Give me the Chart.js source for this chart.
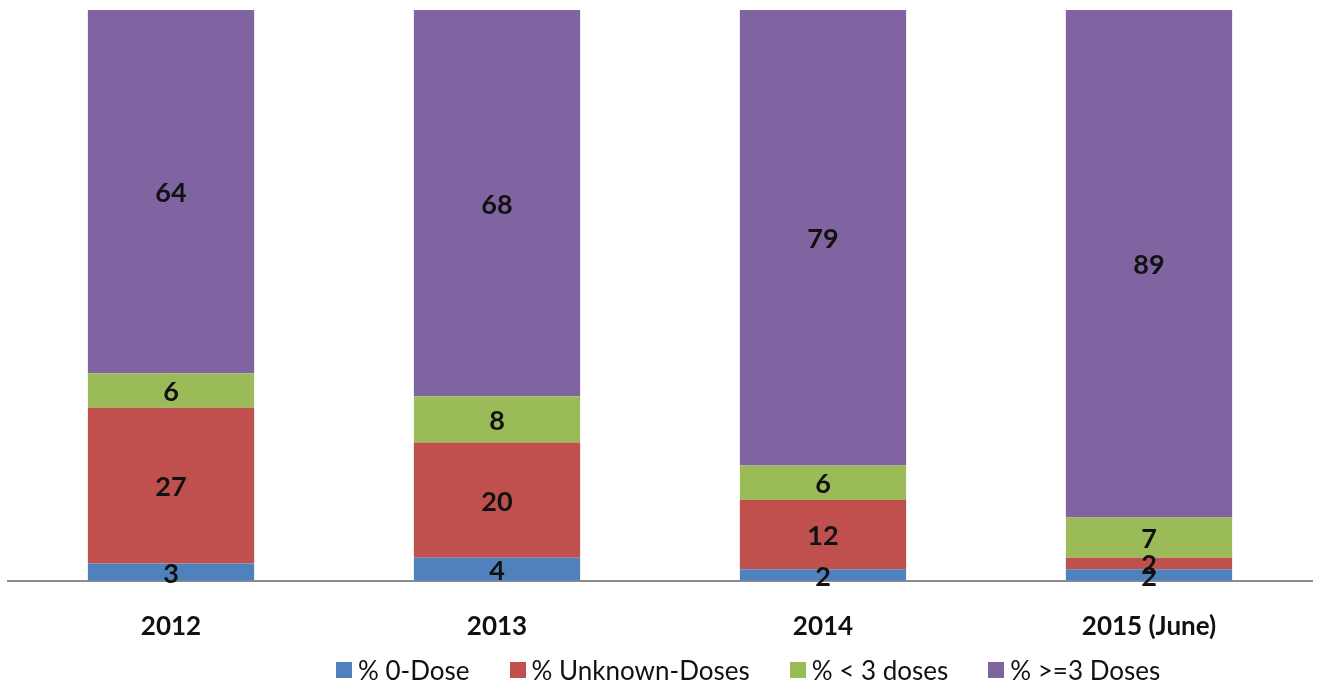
<!DOCTYPE html>
<html>
<head>
<meta charset="utf-8">
<script src="https://cdn.jsdelivr.net/npm/chart.js@4"></script>
<style>
  html, body { margin: 0; padding: 0; background: #fff; }
  #wrap { position: relative; width: 1319px; height: 689px; }
  #legend {
    position: absolute; left: 336px; top: 654px;
    display: flex; align-items: center; gap: 40px;
    font-family: Lato, "Open Sans", sans-serif; font-size: 26px; color: #111;
    white-space: nowrap;
  }
  #legend .item { display: flex; align-items: center; gap: 6px; }
  #legend .box { width: 16px; height: 16px; }
</style>
</head>
<body>
<div id="wrap">
  <canvas id="myChart" width="1319" height="689"></canvas>
  <div id="legend"></div>
</div>
<script>
// Chart values
const years = ['2012', '2013', '2014', '2015 (June)'];
const zeroDose = [3, 4, 2, 2];
const unknownDoses = [27, 20, 12, 2];
const lessThan3 = [6, 8, 6, 7];
const threeOrMore = [64, 68, 79, 89];

const seriesNames = ['% 0-Dose', '% Unknown-Doses', '% < 3 doses', '% >=3 Doses'];
const seriesColors = ['#4F81BD', '#C0504D', '#9BBB59', '#8064A2'];

// Draw the value in the middle of each segment
const segmentLabels = {
  id: 'segmentLabels',
  afterDatasetsDraw(chart) {
    const ctx = chart.ctx;
    ctx.save();
    ctx.font = 'bold 27px Lato, "Open Sans", sans-serif';
    ctx.fillStyle = '#111';
    ctx.textAlign = 'center';
    ctx.textBaseline = 'middle';
    chart.data.datasets.forEach((ds, i) => {
      const meta = chart.getDatasetMeta(i);
      meta.data.forEach((bar, j) => {
        const top = Math.max(bar.y, chart.chartArea.top);
        const mid = (top + bar.base) / 2;
        ctx.fillText(String(ds.data[j]), bar.x, mid + 2);
      });
    });
    ctx.restore();
  }
};

const datasets = [zeroDose, unknownDoses, lessThan3, threeOrMore].map((values, i) => ({
  label: seriesNames[i],
  data: values,
  backgroundColor: seriesColors[i],
  borderWidth: 0,
  barPercentage: 0.51,
  categoryPercentage: 1
}));

const chart = new Chart(document.getElementById('myChart').getContext('2d'), {
  type: 'bar',
  data: { labels: years, datasets: datasets },
  options: {
    responsive: false,
    animation: false,
    layout: { padding: { top: 10, left: 8, right: 7, bottom: 17 } },
    scales: {
      x: {
        stacked: true,
        grid: { display: false, drawTicks: false },
        border: { color: '#8c8c8c', width: 2 },
        ticks: {
          color: '#111',
          padding: 30,
          font: { family: 'Lato, "Open Sans", sans-serif', size: 26, weight: 'bold' }
        }
      },
      y: {
        stacked: true,
        display: false,
        min: 0,
        max: 99
      }
    },
    plugins: {
      legend: { display: false },
      tooltip: { enabled: false }
    }
  },
  plugins: [segmentLabels]
});

// Build the legend below the chart from the datasets
const legendEl = document.getElementById('legend');
chart.data.datasets.forEach(ds => {
  const item = document.createElement('div');
  item.className = 'item';
  item.innerHTML = `<span class="box" style="background:${ds.backgroundColor}"></span><span>${ds.label.replace(/</g, '&lt;').replace(/>/g, '&gt;')}</span>`;
  legendEl.appendChild(item);
});
</script>
</body>
</html>
